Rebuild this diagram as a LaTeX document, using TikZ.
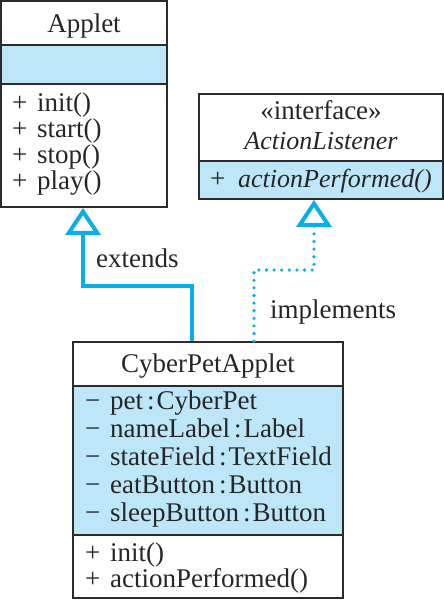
\documentclass[tikz,border=0pt]{standalone}
\usepackage{fontspec}
\setmainfont{Liberation Serif}
\usetikzlibrary{arrows.meta}
\definecolor{umlfill}{HTML}{BEE6F9}
\definecolor{umlline}{HTML}{0AAFE8}
\definecolor{umlborder}{HTML}{2B2B2B}
\newcommand{\typesep}{\hspace{4pt}:\hspace{2pt}}
\begin{document}
\begin{tikzpicture}[x=1pt,y=-1pt,
  umlbox/.style={draw=umlborder,line width=1.8pt,inner sep=0pt,fill=none},
  divider/.style={draw=umlborder,line width=1.8pt},
  txt/.style={inner sep=0pt,font=\fontsize{27}{29}\selectfont,text=black!85},
  itxt/.style={inner sep=0pt,font=\fontsize{26}{28}\selectfont\itshape,text=black!85},
  row/.style={txt,anchor=base west},
  ttl/.style={txt,anchor=base},
  inherit/.style={draw=umlline,line width=4pt,
    -{Triangle[open,length=27pt,width=35pt,line width=4pt]}},
  realize/.style={draw=umlline,line width=3.6pt,line cap=round,
    dash pattern=on 0pt off 7.6pt,
    -{Triangle[open,length=27pt,width=35pt,line width=4pt]}}]
\useasboundingbox (0,0) rectangle (444,600);
% blue compartments
\fill[umlfill] (1,45) rectangle (167,84);
\fill[umlfill] (199,161) rectangle (443,199);
\fill[umlfill] (73,386) rectangle (343,535);
% boxes
\node[umlbox,minimum width=166pt,minimum height=206pt] (applet) at (84,104) {};
\node[umlbox,minimum width=244pt,minimum height=105pt] (iface) at (321,146.5) {};
\node[umlbox,minimum width=270pt,minimum height=256pt] (cyber) at (208,470) {};
% dividers
\draw[divider] (applet.west |- 0,45) -- (applet.east |- 0,45);
\draw[divider] (applet.west |- 0,84) -- (applet.east |- 0,84);
\draw[divider] (iface.west |- 0,161) -- (iface.east |- 0,161);
\draw[divider] (cyber.west |- 0,386) -- (cyber.east |- 0,386);
\draw[divider] (cyber.west |- 0,535) -- (cyber.east |- 0,535);
% Applet texts
\node[ttl] (appletName) at (84,32) {Applet};
\node[row] (am1) at (12,111) {\makebox[25pt][l]{+}init()};
\node[row] (am2) at (12,137) {\makebox[25pt][l]{+}start()};
\node[row] (am3) at (12,163) {\makebox[25pt][l]{+}stop()};
\node[row] (am4) at (12,189) {\makebox[25pt][l]{+}play()};
% interface texts
\node[ttl] (stereo) at (321,119) {«interface»};
\node[itxt,anchor=base] (ifaceName) at (321,149) {ActionListener};
\node[itxt,anchor=base west] (im1) at (210,187) {\makebox[28pt][l]{\upshape\fontsize{27}{29}\selectfont +}actionPerformed()};
% CyberPetApplet texts
\node[ttl] (cyberName) at (208,372) {CyberPetApplet};
\node[row] (ca1) at (85,409) {\makebox[25pt][l]{−}pet\typesep CyberPet};
\node[row] (ca2) at (85,437) {\makebox[25pt][l]{−}nameLabel\typesep Label};
\node[row] (ca3) at (85,465) {\makebox[25pt][l]{−}stateField\typesep TextField};
\node[row] (ca4) at (85,493) {\makebox[25pt][l]{−}eatButton\typesep Button};
\node[row] (ca5) at (85,521) {\makebox[25pt][l]{−}sleepButton\typesep Button};
\node[row] (cm1) at (85,561) {\makebox[25pt][l]{+}init()};
\node[row] (cm2) at (85,587) {\makebox[25pt][l]{+}actionPerformed()};
% connectors
\coordinate (eLow) at (192,0);
\coordinate (eHigh) at (83,0);
\coordinate (eBend) at (0,286);
\draw[inherit] (eLow |- cyber.north) |- (eBend -| eHigh) -- (eHigh |- applet.south);
\coordinate (iLow) at (254,0);
\coordinate (iHigh) at (314,0);
\coordinate (iBend) at (0,270);
\draw[realize] (iLow |- cyber.north) |- (iBend -| iHigh) -- (iHigh |- iface.south);
% labels
\node[row] (extLbl) at (96,267) {extends};
\node[row] (implLbl) at (270,318) {implements};
\end{tikzpicture}
\end{document}
